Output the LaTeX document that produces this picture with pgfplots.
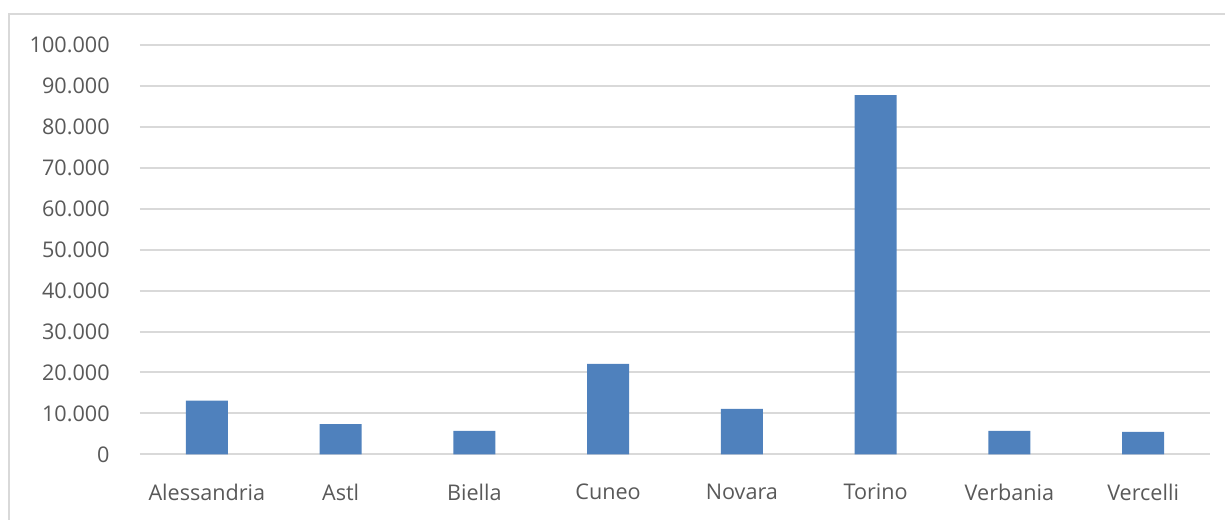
\documentclass[border=0pt]{standalone}
\usepackage{pgfplots}
\pgfplotsset{compat=1.18}
\usepackage{fontspec}
\setmainfont{Open Sans}
\definecolor{barblue}{HTML}{4F81BD}
\definecolor{gridgray}{HTML}{D9D9D9}
\definecolor{textgray}{HTML}{595959}
\begin{document}
\begin{tikzpicture}
\path[use as bounding box] (0,0) rectangle (612.5pt,259.5pt);
\draw[gridgray, line width=0.8pt] (4.5pt,-5pt) rectangle (620pt,252.5pt);
\begin{axis}[
  at={(70pt,32.35pt)}, anchor=south west,
  scale only axis, width=535pt, height=204.5pt,
  xmin=-0.5, xmax=7.5, ymin=0, ymax=100000,
  ytick={0,10000,...,100000},
  xtick=data,
  xticklabels={Alessandria,Astl,Biella,Cuneo,Novara,Torino,Verbania,Vercelli},
  axis line style={draw=none},
  tick style={draw=none},
  ymajorgrids, grid style={gridgray, line width=1pt},
  scaled y ticks=false,
  /pgf/number format/.cd, fixed, 1000 sep={.}, assume math mode=true,
  /pgfplots/.cd,
  ticklabel style={font=\fontsize{10.8}{12}\selectfont, text=textgray},
  yticklabel style={inner sep=0pt, xshift=-15pt},
  xticklabel style={inner sep=0pt, yshift=-14.5pt},
]
\addplot[ybar, bar width=21pt, fill=barblue, draw=none] coordinates {
  (0,13100) (1,7400) (2,5700) (3,22100) (4,11100) (5,87800) (6,5700) (7,5500)
};
\end{axis}
\end{tikzpicture}
\end{document}
